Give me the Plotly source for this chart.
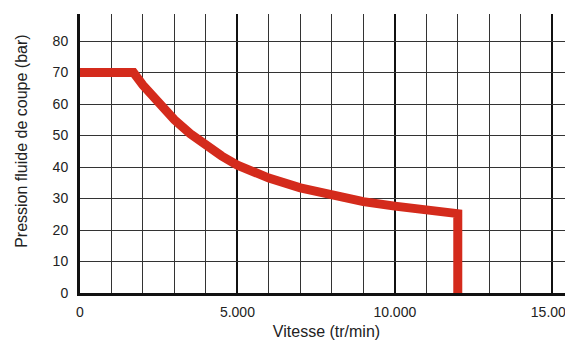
import plotly.graph_objects as go

# speed (tr/min) vs cutting fluid pressure (bar)
speed = [0, 1700, 2000, 2500, 3000, 3500, 4000, 4500, 5000, 5500, 6000, 7000, 8000, 9000, 10000, 11000, 12000, 12000]
pressure = [70, 70, 66, 60.2, 55, 50.6, 46.8, 43.5, 40.6, 38.4, 36.5, 33.4, 30.9, 29.0, 27.6, 26.3, 25.2, 0]

x_ticks = [0, 5000, 10000, 15000]
x_labels = ["0", "5.000", "10.000", "15.000"]
y_ticks = [0, 10, 20, 30, 40, 50, 60, 70, 80]

title_font = dict(family="Liberation Sans, Arial, sans-serif", size=16, color="#222")
tick_font = dict(family="Liberation Sans, Arial, sans-serif", size=14, color="#222")

fig = go.Figure()
fig.add_trace(go.Scatter(
    x=speed, y=pressure, mode="lines",
    line=dict(color="#d42b1c", width=9),
    hoverinfo="skip", showlegend=False,
))

# page body adds 8px offset, so figure is sized/margined to compensate
fig.update_layout(
    width=565, height=337,
    margin=dict(l=72, r=0, t=6, b=52),
    paper_bgcolor="white", plot_bgcolor="white",
    xaxis=dict(
        range=[0, 15660], tickvals=x_ticks, ticktext=x_labels,
        showgrid=True, gridcolor="#111", gridwidth=2,
        minor=dict(dtick=1000, tick0=0, showgrid=True, gridcolor="#333", gridwidth=1),
        showline=True, linecolor="#111", linewidth=3,
        zeroline=False, ticks="", ticklabelstandoff=4, automargin=False,
        ticklabeloverflow="allow",
        tickfont=tick_font,
        title=dict(text="Vitesse (tr/min)", font=title_font, standoff=8),
    ),
    yaxis=dict(
        range=[0, 88.6], tickvals=y_ticks,
        showgrid=True, gridcolor="#333", gridwidth=1,
        showline=True, linecolor="#111", linewidth=3,
        zeroline=False, ticks="", ticklabelstandoff=6, automargin=False,
        tickfont=tick_font,
    ),
    annotations=[dict(
        text="Pression fluide de coupe (bar)", textangle=-90,
        xref="paper", x=0, xshift=-58, xanchor="center",
        yref="y", y=48, yanchor="middle",
        showarrow=False, font=title_font,
    )],
)

fig.write_html("out.html")
